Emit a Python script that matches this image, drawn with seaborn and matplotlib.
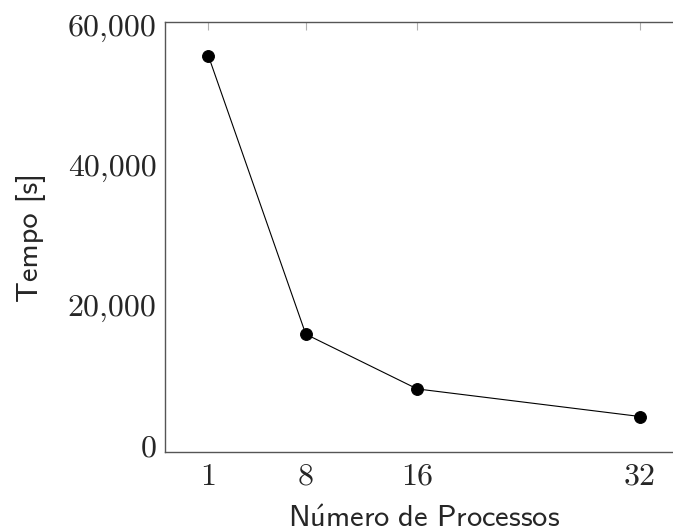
import matplotlib
matplotlib.use("Agg")
import matplotlib.pyplot as plt
import seaborn as sns
import pandas as pd

# Execution time versus number of processes
processos = [1, 8, 16, 32]
tempo = [55700, 15900, 8080, 4140]
x_ticks = [1, 8, 16, 32]
y_ticks = [0, 20000, 40000, 60000]
y_tick_labels = ["0", "20,000", "40,000", "60,000"]

df = pd.DataFrame({"Processos": processos, "Tempo": tempo})

sns.set_style("white")
plt.rcParams["mathtext.fontset"] = "cm"
plt.rcParams["axes.unicode_minus"] = False

fig = plt.figure(figsize=(6.73, 5.32), dpi=100)
ax = fig.add_axes([0.2452, 0.1504, 0.770, 0.8082])

sns.lineplot(data=df, x="Processos", y="Tempo", ax=ax, color="black",
             linewidth=0.8, marker="o", markersize=8.5,
             markeredgecolor="black", markerfacecolor="black")

ax.set_xlim(-2.11, 35.11)
ax.set_ylim(-930, 60500)

ax.set_xticks(x_ticks)
ax.set_xticklabels([str(v) for v in x_ticks], family="cmr10", fontsize=23)
ax.set_yticks(y_ticks)
ax.set_yticklabels(y_tick_labels, family="cmr10", fontsize=23)

ax.tick_params(axis="both", direction="in", length=6, width=0.8,
               color="#b0b0b0", top=True, right=True)
ax.tick_params(axis="x", pad=8)
ax.tick_params(axis="y", pad=6)
for s in ax.spines.values():
    s.set_visible(True)
    s.set_color("#555555")
    s.set_linewidth(1.0)

ax.set_xlabel(r"$\mathsf{N\acute{u}mero\ de\ Processos}$", fontsize=22, labelpad=10)
ax.set_ylabel("Tempo [s]", family="cmss10", fontsize=22, labelpad=16)

fig.savefig("out.png", dpi=100)
